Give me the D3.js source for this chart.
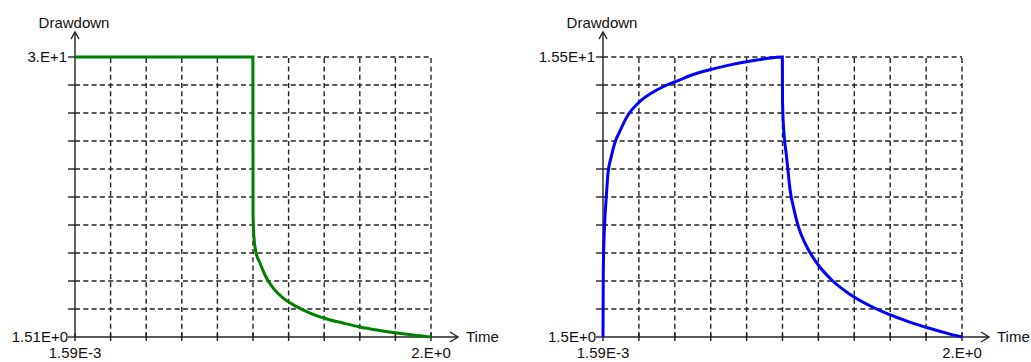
<!DOCTYPE html>
<html>
<head>
<meta charset="utf-8">
<script src="https://cdn.jsdelivr.net/npm/d3@7"></script>
<style>
  html, body { margin: 0; padding: 0; background: #fff; }
  svg { display: block; }
  text { font-family: "Liberation Sans", Arial, sans-serif; font-size: 15px; fill: #111; }
</style>
</head>
<body>
<svg id="chart" width="1031" height="362"></svg>
<script>
// Time axis shared by both panels
const timeDomain = [0.00159, 2.0];
const timeTickLabels = ["1.59E-3", "2.E+0"];

// Left panel: constant-drawdown pumping, then recovery
const leftTime = [0.00159, 1.0, 1.001, 1.006, 1.017, 1.040, 1.068, 1.113, 1.169, 1.248, 1.321,
                  1.416, 1.506, 1.601, 1.697, 1.809, 1.899, 2.0];
const leftDrawdown = [30, 30, 14.1, 11.7, 10.16, 9.04, 7.82, 6.5, 5.48, 4.57, 3.95,
                      3.34, 2.93, 2.53, 2.22, 1.92, 1.71, 1.51];
const leftYDomain = [1.51, 30];
const leftYTickLabels = ["1.51E+0", "3.E+1"];

// Right panel: drawdown build-up, then recovery
const rightTime = [0.00159, 0.0033, 0.011, 0.020, 0.0294, 0.0478, 0.0667, 0.0945, 0.1407, 0.1964,
                   0.2704, 0.345, 0.419, 0.512, 0.604, 0.716, 0.809, 0.902, 1.0,
                   1.001, 1.011, 1.021, 1.030, 1.043, 1.061, 1.089, 1.126, 1.200, 1.275,
                   1.367, 1.479, 1.590, 1.701, 1.813, 1.924, 2.0];
const rightDrawdown = [1.5, 4.85, 7.2, 8.5, 9.7, 10.52, 11.19, 11.77, 12.6, 13.19,
                       13.69, 14.05, 14.32, 14.65, 14.88, 15.12, 15.28, 15.41, 15.5,
                       13.2, 11.45, 10.7, 9.95, 8.85, 8.02, 7.02, 6.19, 5.1, 4.35,
                       3.69, 3.1, 2.64, 2.27, 1.95, 1.67, 1.5];
const rightYDomain = [1.5, 15.5];
const rightYTickLabels = ["1.5E+0", "1.55E+1"];

const axisTitleY = "Drawdown";
const axisTitleX = "Time";

const svg = d3.select("#chart");
const TOP = 57, BOTTOM = 337, DIVS = 10;

function drawPanel(cfg) {
  const g = svg.append("g");
  const x = d3.scaleLinear().domain(timeDomain).range([cfg.x0, cfg.x1]);
  const y = d3.scaleLinear().domain(cfg.yDomain).range([BOTTOM, TOP]);

  const xTicks = d3.range(DIVS + 1).map(i => timeDomain[0] + i * (timeDomain[1] - timeDomain[0]) / DIVS);
  const yTicks = d3.range(DIVS + 1).map(i => cfg.yDomain[0] + i * (cfg.yDomain[1] - cfg.yDomain[0]) / DIVS);

  // dashed grid
  const grid = g.append("g")
    .attr("stroke", "#222").attr("stroke-width", 1.4).attr("stroke-dasharray", "5,3.3").attr("fill", "none");
  grid.selectAll("line.v").data(xTicks.slice(1)).join("line")
    .attr("x1", d => x(d)).attr("x2", d => x(d))
    .attr("y1", y(cfg.yDomain[0])).attr("y2", y(cfg.yDomain[1]));
  grid.selectAll("line.h").data(yTicks.slice(1)).join("line")
    .attr("x1", x(timeDomain[0])).attr("x2", x(timeDomain[1]))
    .attr("y1", d => y(d)).attr("y2", d => y(d));

  // axes with arrowheads
  const ax = g.append("g").attr("stroke", "#222").attr("stroke-width", 1.4).attr("fill", "none");
  const ox = x(timeDomain[0]), oy = y(cfg.yDomain[0]);
  const xEnd = x(timeDomain[1]) + 27, yEnd = y(cfg.yDomain[1]) - 25;
  ax.append("line").attr("x1", ox).attr("x2", xEnd).attr("y1", oy).attr("y2", oy);
  ax.append("line").attr("x1", ox).attr("x2", ox).attr("y1", oy).attr("y2", yEnd);
  ax.append("path").attr("d", `M${xEnd - 8},${oy - 5}L${xEnd},${oy}L${xEnd - 8},${oy + 5}`);
  ax.append("path").attr("d", `M${ox - 4},${yEnd + 7}L${ox},${yEnd}L${ox + 4},${yEnd + 7}`);
  ax.selectAll("line.xt").data(xTicks).join("line")
    .attr("x1", d => x(d)).attr("x2", d => x(d)).attr("y1", oy - 4).attr("y2", oy + 4);
  ax.selectAll("line.yt").data(yTicks).join("line")
    .attr("x1", ox - 7).attr("x2", ox).attr("y1", d => y(d)).attr("y2", d => y(d));

  // data line
  const line = d3.line().curve(d3.curveMonotoneX).x((d, i) => x(cfg.time[i])).y(d => y(d));
  g.append("path").datum(cfg.values)
    .attr("d", line).attr("fill", "none")
    .attr("stroke", cfg.color).attr("stroke-width", 3).attr("stroke-linejoin", "miter");

  // labels
  g.append("text").attr("x", ox - 1).attr("y", 28).attr("text-anchor", "middle").text(axisTitleY);
  g.append("text").attr("x", xEnd + 8).attr("y", oy).attr("dy", "0.35em").text(axisTitleX);
  g.append("text").attr("x", ox - 8).attr("y", y(cfg.yDomain[1])).attr("dy", "0.35em")
    .attr("text-anchor", "end").text(cfg.yLabels[1]);
  g.append("text").attr("x", ox - 7).attr("y", y(cfg.yDomain[0])).attr("dy", "0.35em")
    .attr("text-anchor", "end").text(cfg.yLabels[0]);
  g.append("text").attr("x", x(timeDomain[0])).attr("y", 358).attr("text-anchor", "middle").text(timeTickLabels[0]);
  g.append("text").attr("x", x(timeDomain[1])).attr("y", 358).attr("text-anchor", "middle").text(timeTickLabels[1]);
}

drawPanel({ x0: 75, x1: 431, yDomain: leftYDomain, yLabels: leftYTickLabels,
            time: leftTime, values: leftDrawdown, color: "#008000" });
drawPanel({ x0: 603, x1: 962, yDomain: rightYDomain, yLabels: rightYTickLabels,
            time: rightTime, values: rightDrawdown, color: "#0000ff" });
</script>
</body>
</html>
